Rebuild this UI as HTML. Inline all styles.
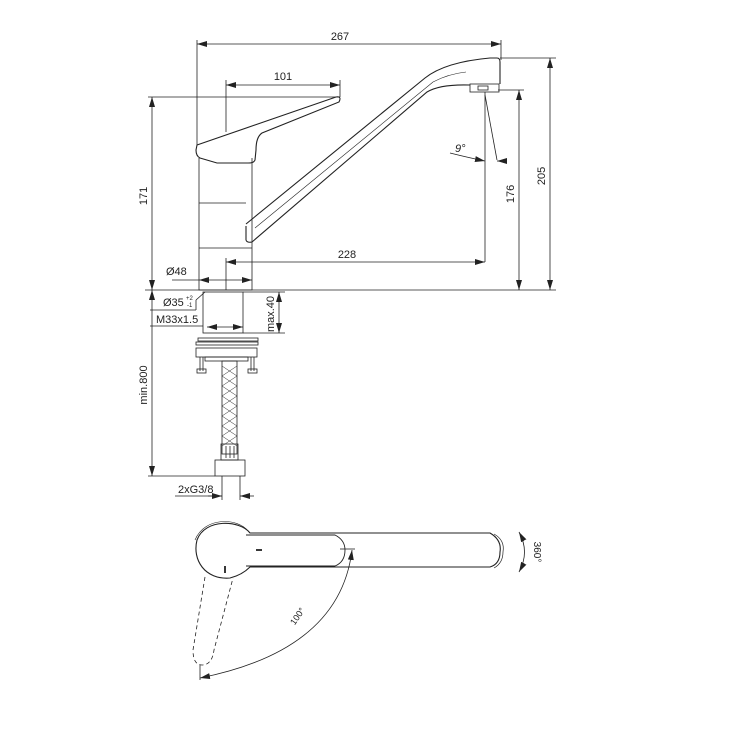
<!DOCTYPE html>
<html><head><meta charset="utf-8"><style>
html,body{margin:0;padding:0;background:#fff;}
svg{display:block;font-family:"Liberation Sans",sans-serif;}
text{font-size:11px;fill:#222;}
</style></head><body>
<svg width="743" height="741" viewBox="0 0 743 741" xmlns="http://www.w3.org/2000/svg">
<defs>
<marker id="a" viewBox="0 0 10 6" refX="10" refY="3" markerWidth="10" markerHeight="6" orient="auto-start-reverse" markerUnits="userSpaceOnUse"><path d="M0,0L10,3L0,6z" fill="#222"/></marker>
</defs>
<g stroke="#222" fill="none" stroke-width="0.8">
<line x1="197" y1="40" x2="197" y2="145"/>
<line x1="501" y1="40" x2="501" y2="60"/>
<line x1="226" y1="80" x2="226" y2="132"/>
<line x1="340" y1="80" x2="340" y2="97"/>
<line x1="148" y1="97" x2="340" y2="97"/>
<line x1="500" y1="58" x2="556" y2="58"/>
<line x1="498" y1="90" x2="524" y2="90"/>
<line x1="145" y1="290" x2="556" y2="290"/>
<line x1="485" y1="92" x2="485" y2="262"/>
<line x1="485" y1="95" x2="497" y2="160"/>
<line x1="226" y1="258" x2="226" y2="290"/>
<line x1="172" y1="280" x2="199" y2="280"/>
<line x1="197" y1="44" x2="501" y2="44" marker-start="url(#a)" marker-end="url(#a)"/>
<line x1="226" y1="85" x2="340" y2="85" marker-start="url(#a)" marker-end="url(#a)"/>
<line x1="152" y1="97" x2="152" y2="290" marker-start="url(#a)" marker-end="url(#a)"/>
<line x1="519" y1="90" x2="519" y2="290" marker-start="url(#a)" marker-end="url(#a)"/>
<line x1="550" y1="58" x2="550" y2="290" marker-start="url(#a)" marker-end="url(#a)"/>
<line x1="226" y1="262" x2="485" y2="262" marker-start="url(#a)" marker-end="url(#a)"/>
<line x1="199" y1="280" x2="252" y2="280" marker-start="url(#a)" marker-end="url(#a)"/>
<path d="M450,153 Q470,158 485,161" marker-end="url(#a)"/>
<line x1="506" y1="161" x2="497" y2="161" marker-end="url(#a)"/>
<path d="M199,158 L199,290 L252,290 L252,158"/>
<line x1="199" y1="203" x2="246" y2="203"/>
<line x1="199" y1="248" x2="252" y2="248"/>
<path d="M197,145 L336,97 Q342,96 339,102 L262,133 Q256,137 256,150 L255,160 Q254,163 248,163 L217,163 L200,158 Q196,156 196,150 Z" stroke-width="1.1"/>
<path d="M246,226 L246,240 Q247,243 252,242 L427,92 Q440,84 470,85 M246,224 L425,78 Q445,62 490,58 L497,58 Q500,58 500,62 L500,84" stroke-width="1.1"/>
<path d="M255,228 L433,82 Q448,74 466,72" stroke-width="0.6"/>
<rect x="470" y="84" width="29" height="8"/>
<rect x="478" y="86" width="10" height="4"/>
<rect x="203" y="292" width="40" height="41"/>
<line x1="207" y1="327" x2="243" y2="327" marker-start="url(#a)" marker-end="url(#a)"/>
<line x1="243" y1="292" x2="285" y2="292"/>
<line x1="243" y1="333" x2="285" y2="333"/>
<line x1="279" y1="292" x2="279" y2="333" marker-start="url(#a)" marker-end="url(#a)"/>
<line x1="196" y1="300" x2="205" y2="292"/>
<line x1="150" y1="310" x2="196" y2="310"/>
<line x1="196" y1="300" x2="196" y2="310"/>
<line x1="150" y1="326" x2="203" y2="326"/>
<rect x="198" y="338" width="60" height="3"/>
<rect x="196" y="342" width="62" height="3"/>
<rect x="196" y="348" width="61" height="9"/>
<rect x="205" y="357" width="43" height="4"/>
<line x1="200" y1="357" x2="200" y2="371"/><line x1="203" y1="357" x2="203" y2="371"/>
<line x1="251" y1="357" x2="251" y2="371"/><line x1="254" y1="357" x2="254" y2="371"/>
<rect x="197" y="369" width="9" height="4"/><rect x="248" y="369" width="9" height="4"/>
<rect x="222" y="361" width="15" height="93"/>
<path d="M222,366 L237,376 M222,376 L237,366 M222,376 L237,386 M222,386 L237,376 M222,386 L237,396 M222,396 L237,386 M222,396 L237,406 M222,406 L237,396 M222,406 L237,416 M222,416 L237,406 M222,416 L237,426 M222,426 L237,416 M222,426 L237,436 M222,436 L237,426 M222,436 L237,446 M222,446 L237,436" stroke-width="0.5"/>
<rect x="221" y="444" width="17" height="16"/>
<line x1="226" y1="446" x2="226" y2="458"/><line x1="230" y1="446" x2="230" y2="458"/><line x1="234" y1="446" x2="234" y2="458"/>
<rect x="215" y="460" width="30" height="16"/>
<line x1="152" y1="290" x2="152" y2="476" marker-start="url(#a)" marker-end="url(#a)"/>
<line x1="148" y1="476" x2="215" y2="476"/>
<line x1="222" y1="476" x2="222" y2="500"/><line x1="240" y1="476" x2="240" y2="500"/>
<line x1="175" y1="496" x2="222" y2="496"/>
<line x1="208" y1="496" x2="222" y2="496" marker-end="url(#a)"/>
<line x1="254" y1="496" x2="240" y2="496" marker-end="url(#a)"/>
<!-- top view -->
<path d="M250,533 C240,520 205,518 197,540 C192,560 205,580 230,578 Q242,575 250,567 L490,567 Q500,564 500,552 Q502,540 490,533 Z" stroke-width="1.1"/>
<path d="M248,531 C238,518 205,516 195,540" stroke-width="0.6"/>
<path d="M494,534 Q505,540 503,552 Q503,563 494,568" stroke-width="0.7"/>
<path d="M246,535 L335,535 Q345,540 345,550 Q345,562 335,566 L246,566" stroke-width="0.9"/>
<line x1="256" y1="550" x2="262" y2="550" stroke-width="1.8"/>
<line x1="225" y1="566" x2="225" y2="573" stroke-width="1.8"/>
<path d="M205,577 L193,650 Q193,665 202,665 Q212,665 214,650 L233,578" stroke-dasharray="4,3"/>
<line x1="340" y1="549" x2="355" y2="549"/>
<path d="M352,550 Q340,650 200,678" marker-start="url(#a)" marker-end="url(#a)"/>
<line x1="200" y1="665" x2="200" y2="680"/>
<path d="M519,532 Q530,552 519,572" marker-start="url(#a)" marker-end="url(#a)"/>
</g>
<text x="340" y="40" text-anchor="middle">267</text>
<text x="283" y="80" text-anchor="middle">101</text>
<text x="347" y="258" text-anchor="middle">228</text>
<text x="166" y="275">Ø48</text>
<text x="455" y="152" font-style="italic">9°</text>
<text transform="translate(147,196) rotate(-90)" text-anchor="middle">171</text>
<text transform="translate(514,194) rotate(-90)" text-anchor="middle">176</text>
<text transform="translate(545,176) rotate(-90)" text-anchor="middle">205</text>
<text x="163" y="306">Ø35</text>
<text x="186" y="300" style="font-size:6px">+2</text>
<text x="187" y="307" style="font-size:6px">-1</text>
<text x="156" y="323">M33x1.5</text>
<text transform="translate(274,314) rotate(-90)" text-anchor="middle">max.40</text>
<text transform="translate(147,385) rotate(-90)" text-anchor="middle">min.800</text>
<text x="178" y="493">2xG3/8</text>
<text transform="translate(300,618) rotate(-55)" text-anchor="middle" style="font-size:9px">100°</text>
<text transform="translate(534,552) rotate(90)" text-anchor="middle" style="font-size:10px">360°</text>
</svg>
</body></html>
